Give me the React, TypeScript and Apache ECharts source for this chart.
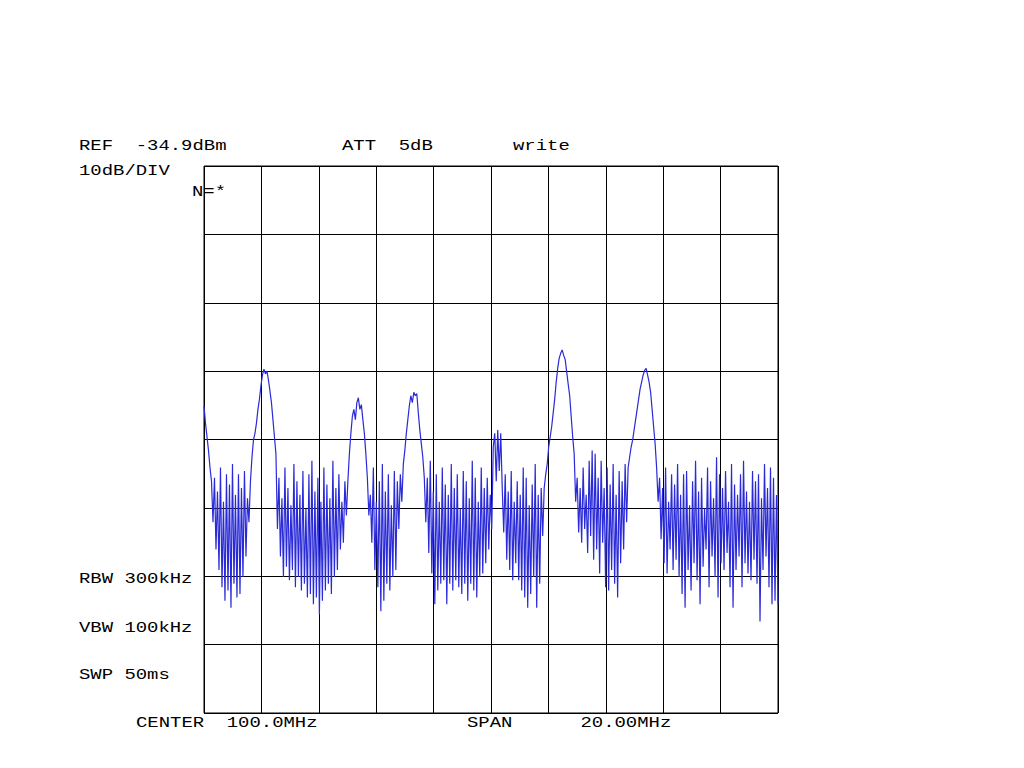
import React, { useEffect, useRef } from "react";
import * as echarts from "echarts";

// Analyzer settings
const REF_LEVEL = -34.9; // dBm, top graticule line
const DB_PER_DIV = 10;
const Y_DIVS = 8;
const CENTER_MHZ = 100.0;
const SPAN_MHZ = 20.0;
const X_DIVS = 10;

// Trace (dBm), left to right, in sweep order
const startSlope = [-70, -72.5, -74.5, -76.5, -79, -81];
const noise1 = [
  -87, -80.5, -91, -82.5, -94, -79, -96.5, -84, -98.5, -80, -97, -81.5, -99.5,
  -78.5, -96, -83, -98, -80, -97.5, -82, -95, -79.5, -92, -83.5, -87,
];
const peak1 = [
  -81, -77.5, -75, -74, -72.5, -70.5, -69, -67, -65.5, -64.6, -65.3, -64.9,
  -66.2, -67.8, -69.5, -72, -74.5, -77,
];
const noise2 = [
  -88, -80.5, -92, -83.5, -95, -79, -93.5, -82, -95.5, -84.5, -94, -78.5, -96.5,
  -81, -95, -83, -97, -79.5, -96, -85, -98, -80, -97.5, -78, -99, -82.5, -98,
  -80.5, -100.5, -84, -98.5, -79, -97, -81.5, -96, -83.5, -97.5, -78, -95, -82,
  -94, -80, -91, -84, -90, -81, -86,
];
const peak2 = [
  -81, -77, -74, -71.5, -70.5, -72, -69.5, -68.8, -70.5, -69.8, -72, -74, -77,
];
const noise3 = [
  -80.5, -86, -83, -90, -79, -94, -84, -96.5, -81, -100, -78.5, -98.5, -82.5,
  -96, -80, -97, -84.5, -95, -79.5, -94, -81, -88,
];
const peak3 = [
  -80, -84, -78.5, -76.5, -74, -72, -70, -68.5, -69.5, -68, -68.5, -68.2, -71,
  -73.5, -75.5, -77.5, -80.5,
];
const noise4 = [
  -87, -80.5, -91.5, -78, -94.5, -82.5, -99, -80, -97, -84, -96, -79, -95.5,
  -81.5, -99, -83, -96, -78.5, -97, -82, -95.5, -80, -96.5, -85, -97.5, -79.5,
  -96, -81, -98.5, -83.5, -96, -78, -97, -80.5, -98, -84, -95, -79, -94.5, -82,
  -93, -80.5, -91, -83, -88,
];
const bump = [-76, -74, -81, -73.5, -79.5, -74, -82];
const noise5 = [
  -88.5, -80, -92.5, -82.5, -94, -79.5, -95.5, -84, -93, -81, -95.5, -83, -97,
  -79, -98, -80.5, -99.5, -84.5, -97.5, -81.5, -95, -78.5, -99.5, -83, -96, -82,
  -89,
];
const peak4 = [
  -82, -80, -78.5, -76, -74.5, -73, -71, -69, -66.5, -64.5, -63, -62.3, -61.8,
  -62.6, -63.2, -65, -66.8, -68.5, -71.5, -74.5, -77,
];
const noise6 = [
  -84, -80.5, -88.5, -82, -90, -79, -88, -83, -91.5, -78, -89, -76.5, -92.5,
  -77, -91, -80.5, -94.5, -78, -90, -82, -96.5, -79, -97, -81.5, -94, -78.5,
  -96, -83, -98, -79.5, -93, -81, -91, -78.5, -87,
];
const peak5 = [
  -79, -77.5, -76, -75, -73.5, -72, -70.5, -69, -67.5, -66.5, -65.5, -64.8,
  -64.5, -65.5, -66.5, -68, -70.5, -73, -75.5, -79,
];
const noise7 = [
  -84, -80.5, -89.5, -82, -93, -79, -94.5, -84, -91, -80, -94, -81.5, -92.5,
  -78.5, -95, -83, -97.5, -80, -99.5, -79.5, -94, -84.5, -97, -81, -93, -78,
  -95.5, -82.5, -99, -80.5, -93.5, -85, -91, -79, -96.5, -81, -92, -83.5, -95,
  -77.5, -98, -80, -93, -82, -94, -79.5, -91.5, -84, -96.5, -78.5, -99.5, -81.5,
  -94, -83, -92, -80, -96.5, -78, -93, -82.5, -94.5, -84, -95.5, -79.5, -92.5,
  -81, -96, -80, -101.5, -83.5, -94, -78.5, -92, -82, -96.5, -79, -99, -80.5,
  -98.5, -83, -99,
];

const trace = [
  ...startSlope,
  ...noise1,
  ...peak1,
  ...noise2,
  ...peak2,
  ...noise3,
  ...peak3,
  ...noise4,
  ...bump,
  ...noise5,
  ...peak4,
  ...noise6,
  ...peak5,
  ...noise7,
];

// Annotation texts
const topTexts = ["REF  -34.9dBm", "ATT  5dB", "write"];
const scaleText = "10dB/DIV";
const avgText = "N=*";
const sideTexts = ["RBW 300kHz", "VBW 100kHz", "SWP 50ms"];
const bottomTexts = ["CENTER  100.0MHz", "SPAN      20.00MHz"];

const FONT_SIZE = 15;
const PITCH = 11.35; // px per character in the reference
const SCALE_X = PITCH / (FONT_SIZE * 0.6);

function txt(text: string, x: number, y: number) {
  return {
    type: "text",
    x,
    y,
    scaleX: SCALE_X,
    silent: true,
    style: {
      text,
      fill: "#000",
      fontSize: FONT_SIZE,
      fontFamily: '"Liberation Mono", "DejaVu Sans Mono", monospace',
      align: "left",
      verticalAlign: "middle",
    },
  };
}

export default function App() {
  const ref = useRef<HTMLDivElement>(null);

  useEffect(() => {
    if (!ref.current) return;
    const chart = echarts.init(ref.current, null, { renderer: "svg" });
    const bottom = REF_LEVEL - DB_PER_DIV * Y_DIVS;
    const fStart = CENTER_MHZ - SPAN_MHZ / 2;
    const fStop = CENTER_MHZ + SPAN_MHZ / 2;
    const n = trace.length;
    const data = trace.map((v, i) => [
      fStart + (SPAN_MHZ * i) / (n - 1),
      v - bottom,
    ]);

    chart.setOption({
      animation: false,
      backgroundColor: "#fff",
      grid: {
        left: 204,
        top: 166,
        width: 574,
        height: 547,
        show: true,
        borderColor: "#000",
        borderWidth: 1,
        backgroundColor: "transparent",
      },
      xAxis: {
        type: "value",
        min: fStart,
        max: fStop,
        interval: SPAN_MHZ / X_DIVS,
        axisLine: { show: false },
        axisTick: { show: false },
        axisLabel: { show: false },
        splitLine: { show: true, lineStyle: { color: "#000", width: 1 } },
      },
      yAxis: {
        type: "value",
        min: 0,
        max: DB_PER_DIV * Y_DIVS,
        interval: DB_PER_DIV,
        axisLine: { show: false },
        axisTick: { show: false },
        axisLabel: { show: false },
        splitLine: { show: true, lineStyle: { color: "#000", width: 1 } },
      },
      series: [
        {
          type: "line",
          data,
          showSymbol: false,
          symbol: "none",
          silent: true,
          lineStyle: { color: "#2a2ad8", width: 1.2 },
          z: 3,
        },
      ],
      graphic: [
        txt(topTexts[0], 79, 146),
        txt(topTexts[1], 342, 146),
        txt(topTexts[2], 513, 146),
        txt(scaleText, 79, 171),
        txt(avgText, 192, 192),
        txt(sideTexts[0], 79, 579),
        txt(sideTexts[1], 79, 628),
        txt(sideTexts[2], 79, 675),
        txt(bottomTexts[0], 136, 723),
        txt(bottomTexts[1], 467, 723),
      ],
    });
    return () => chart.dispose();
  }, []);

  return (
    <div
      ref={ref}
      style={{
        position: "fixed",
        left: 0,
        top: 0,
        width: 1024,
        height: 768,
        background: "#fff",
      }}
    />
  );
}
